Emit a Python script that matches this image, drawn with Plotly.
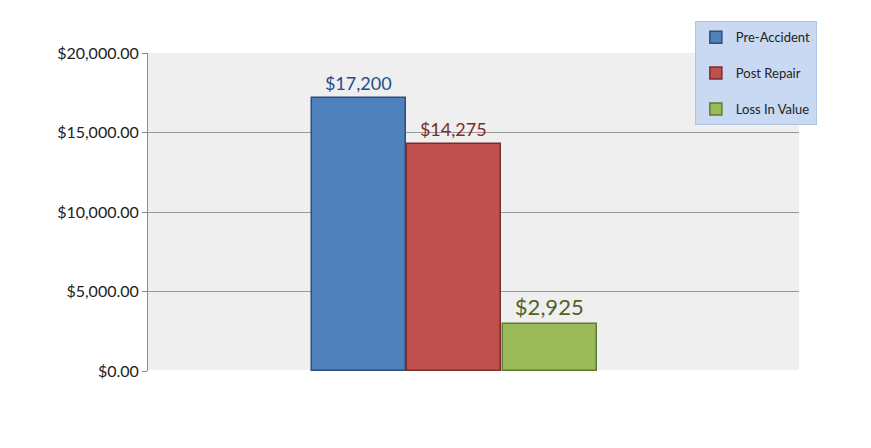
import plotly.graph_objects as go

series = ["Pre-Accident", "Post Repair", "Loss In Value"]
values = [17200, 14275, 2925]
labels = ["$17,200", "$14,275", "$2,925"]
colors = ["#4F81BD", "#C0504D", "#9BBB59"]
dark = ["#2E4F7A", "#7A2D2B", "#5E7A34"]
label_colors = ["#1F4E8C", "#7A2D2B", "#4F6228"]
y_ticks = [0, 5000, 10000, 15000, 20000]

fig = go.Figure()
for i, name in enumerate(series):
    fig.add_trace(go.Bar(
        x=[i], y=[values[i]], name=name, width=0.98, legendgroup=name,
        marker=dict(color=colors[i], line=dict(color=dark[i], width=1.5)),
        text=[labels[i]], textposition="outside",
        textfont=dict(color=label_colors[i], size=22 if i == 2 else 18, family="Lato"),
        cliponaxis=False,
    ))

fig.update_layout(
    width=871, height=448,
    margin=dict(l=140, r=80, t=45, b=85),
    paper_bgcolor="white", plot_bgcolor="#EFEFEF",
    font=dict(family="Lato", size=16, color="#222"),
    barmode="group", bargap=0,
    showlegend=True,
    legend=dict(x=0.84, y=1.1, xanchor="left", yanchor="top",
                bgcolor="#C9D9F2", bordercolor="#B0C4E4", borderwidth=1,
                font=dict(size=13), itemwidth=30, tracegroupgap=16),
    xaxis=dict(range=[-2.2, 4.6], showticklabels=False, showgrid=False, zeroline=False),
    yaxis=dict(range=[0, 20000], tickvals=y_ticks, tickformat="$,.2f",
               showgrid=True, gridcolor="#999", gridwidth=1,
               showline=True, linecolor="#888", ticks="outside", tickcolor="#888"),
)

fig.write_html("out.html")
